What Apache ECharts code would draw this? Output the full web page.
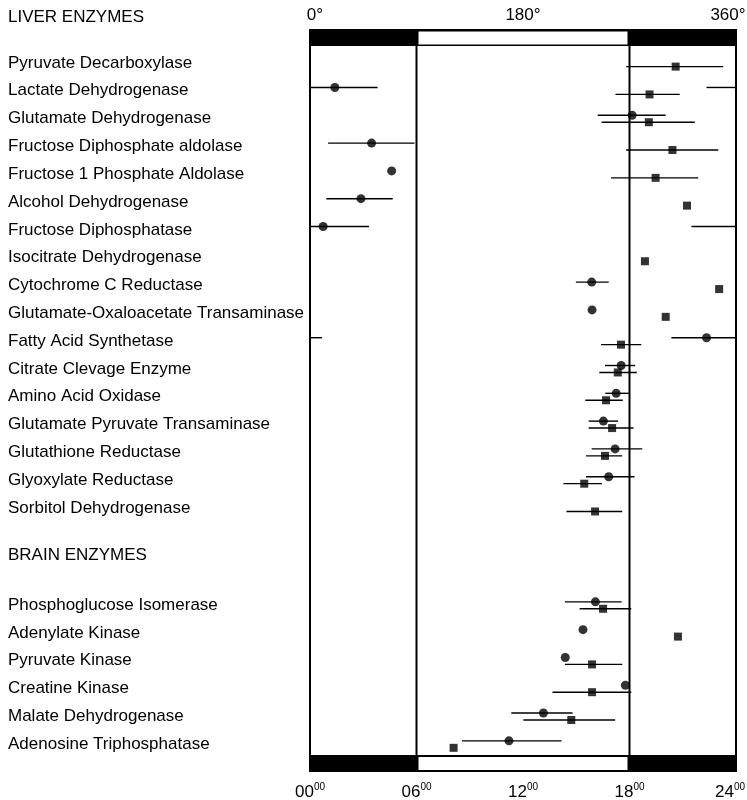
<!DOCTYPE html>
<html><head><meta charset="utf-8">
<script src="https://cdn.jsdelivr.net/npm/echarts@6/dist/echarts.min.js"></script>
<style>html,body{margin:0;padding:0;background:#fff}#c{width:747px;height:800px}</style>
</head><body><div id="c"></div>
<script>
// ---------------- data ----------------
const liverEnzymes = [
  'Pyruvate Decarboxylase','Lactate Dehydrogenase','Glutamate Dehydrogenase',
  'Fructose Diphosphate aldolase','Fructose 1 Phosphate Aldolase','Alcohol Dehydrogenase',
  'Fructose Diphosphatase','Isocitrate Dehydrogenase','Cytochrome C Reductase',
  'Glutamate-Oxaloacetate Transaminase','Fatty Acid Synthetase','Citrate Clevage Enzyme',
  'Amino Acid Oxidase','Glutamate Pyruvate Transaminase','Glutathione Reductase',
  'Glyoxylate Reductase','Sorbitol Dehydrogenase'
];
const brainEnzymes = [
  'Phosphoglucose Isomerase','Adenylate Kinase','Pyruvate Kinase',
  'Creatine Kinase','Malate Dehydrogenase','Adenosine Triphosphatase'
];
const liverHeader = 'LIVER ENZYMES';
const brainHeader = 'BRAIN ENZYMES';

// acrophase (clock hours) and range, circles
const circleTime = [null,1.40,18.15,3.47,4.60,2.87,0.74,null,15.87,15.89,22.34,17.53,17.25,16.53,17.19,16.83,null,
                    16.08,15.38,14.38,17.77,13.15,11.21];
const circleLo   = [null,-1.66,16.21,1.02,null,0.92,-2.51,null,14.98,null,20.36,16.62,16.64,15.70,15.87,15.55,null,
                    14.36,null,null,null,11.34,8.56];
const circleHi   = [null,3.81,20.04,5.89,null,4.66,3.32,null,16.83,null,24.68,18.32,17.96,17.36,18.72,18.28,null,
                    17.56,null,null,null,14.79,14.17];
// squares
const squareTime = [20.60,19.13,19.09,20.42,19.47,21.24,null,18.87,23.05,20.04,17.52,17.34,16.68,17.02,16.62,15.45,16.06,
                    16.51,20.73,15.89,15.89,14.72,8.09];
const squareLo   = [17.81,17.21,16.43,17.81,16.96,null,null,null,null,null,16.40,16.30,15.51,15.70,15.55,14.28,14.45,
                    15.19,null,14.36,13.66,12.02,null];
const squareHi   = [23.28,20.83,21.68,23.00,21.87,null,null,null,null,null,18.66,18.41,17.62,18.23,17.59,16.45,17.59,
                    18.10,null,17.59,18.10,17.19,null];

const topTicks = ['0°','180°','360°'];
const bottomTicks = ['00','06','12','18','24'];
const lightOn = 6, lightOff = 18;

// ---------------- layout ----------------
const names = liverEnzymes.concat(brainEnzymes);
const brainStart = 19.5, brainHeaderPos = 17.7;
const rowPos = liverEnzymes.map((_, i) => i).concat(brainEnzymes.map((_, j) => brainStart + j));
const labelMap = {};
rowPos.forEach((p, i) => { labelMap[p.toFixed(2)] = names[i]; });
labelMap[brainHeaderPos.toFixed(2)] = brainHeader;

const FONT = 'Liberation Sans';
const circOff = -0.12, sqOff = 0.13;

function points(t, off) {
  const out = [];
  t.forEach((v, i) => { if (v != null) out.push([v, rowPos[i] + off]); });
  return out;
}
function bars(t, lo, hi, off) {
  const out = [];
  t.forEach((v, i) => { if (lo[i] != null) out.push([lo[i], hi[i], rowPos[i] + off]); });
  return out;
}
function errRender(params, api) {
  const lo = api.value(0), hi = api.value(1), p = api.value(2);
  const segs = [[Math.max(lo, 0), Math.min(hi, 24)]];
  if (lo < 0) segs.push([lo + 24, 24]);
  if (hi > 24) segs.push([0, hi - 24]);
  return {
    type: 'group',
    children: segs.map(s => {
      const a = api.coord([s[0], p]), b = api.coord([s[1], p]);
      return { type: 'line', shape: { x1: a[0], y1: a[1], x2: b[0], y2: b[1] },
               style: { stroke: '#000', lineWidth: 1.4 } };
    })
  };
}
function frameRender(params, api) {
  const cs = params.coordSys;
  const x0 = cs.x, x1 = cs.x + cs.width, y0 = cs.y, y1 = cs.y + cs.height;
  const xa = api.coord([api.value(0), 0])[0], xb = api.coord([api.value(1), 0])[0];
  const bh = 17;
  const blk = { fill: '#000' }, wht = { fill: '#fff' };
  const ln = (x, ya, yb, w) => ({ type: 'line', shape: { x1: x, y1: ya, x2: x, y2: yb }, style: { stroke: '#000', lineWidth: w } });
  return {
    type: 'group',
    children: [
      { type: 'rect', shape: { x: x0 - 1, y: y0, width: x1 - x0 + 2, height: bh }, style: blk },
      { type: 'rect', shape: { x: xa + 2, y: y0 + 2.5, width: xb - xa - 4, height: bh - 4 }, style: wht },
      { type: 'rect', shape: { x: x0 - 1, y: y1 - bh, width: x1 - x0 + 2, height: bh }, style: blk },
      { type: 'rect', shape: { x: xa + 2, y: y1 - bh + 2, width: xb - xa - 4, height: bh - 4 }, style: wht },
      ln(x0, y0, y1, 2), ln(x1, y0, y1, 2),
      ln(xa, y0 + bh, y1 - bh, 2), ln(xb, y0 + bh, y1 - bh, 2)
    ]
  };
}

const chart = echarts.init(document.getElementById('c'), null, { renderer: 'canvas' });
chart.setOption({
  animation: false,
  backgroundColor: '#fff',
  title: { text: liverHeader, left: 8, top: 9, padding: 0,
           textStyle: { fontFamily: FONT, fontSize: 17, fontWeight: 'normal', color: '#000' } },
  grid: { left: 310, right: 11, top: 29, bottom: 28, containLabel: false, outerBoundsMode: 'none' },
  xAxis: [
    { type: 'value', position: 'top', min: 0, max: 24, interval: 12,
      axisLine: { show: false }, axisTick: { show: false }, splitLine: { show: false },
      axisLabel: { margin: 5, color: '#000', fontFamily: FONT, fontSize: 17,
        formatter: (v, i) => i === 0 ? '{f|' + topTicks[0] + '}' : (i === 2 ? '{l|' + topTicks[2] + '}' : topTicks[i]),
        rich: { f: { fontFamily: FONT, fontSize: 17, padding: [0, 0, 0, 10] },
                l: { fontFamily: FONT, fontSize: 17, padding: [0, 16, 0, 0] } } } },
    { type: 'value', position: 'bottom', min: 0, max: 24, interval: 6,
      axisLine: { show: false }, axisTick: { show: false }, splitLine: { show: false },
      axisLabel: { margin: 10, color: '#000', fontFamily: FONT,
        formatter: (v, i) => '{m|' + bottomTicks[i] + '}' + (i === 4 ? '{t|00}' : '{s|00}'),
        rich: {
          m: { fontFamily: FONT, fontSize: 17, lineHeight: 20 },
          s: { fontFamily: FONT, fontSize: 10, lineHeight: 10, verticalAlign: 'top' },
          t: { fontFamily: FONT, fontSize: 10, lineHeight: 10, verticalAlign: 'top', padding: [0, 12, 0, 0] }
        } } }
  ],
  yAxis: { type: 'value', inverse: true, min: -1.223, max: 25.5,
    axisLine: { show: false }, axisTick: { show: false }, splitLine: { show: false },
    axisLabel: { customValues: rowPos.concat([brainHeaderPos]), align: 'left', margin: 302,
      color: '#000', fontFamily: FONT, fontSize: 17, showMinLabel: true, showMaxLabel: true,
      formatter: v => labelMap[Number(v).toFixed(2)] || '' } },
  series: [
    { type: 'custom', name: 'frame', xAxisIndex: 1, renderItem: frameRender, clip: false,
      data: [[lightOn, lightOff, 0]], encode: { x: [0, 1], y: 2 }, silent: true, z: 1 },
    { type: 'custom', name: 'circleBars', xAxisIndex: 1, renderItem: errRender,
      data: bars(circleTime, circleLo, circleHi, circOff), encode: { x: [0, 1], y: 2 }, z: 2 },
    { type: 'custom', name: 'squareBars', xAxisIndex: 1, renderItem: errRender,
      data: bars(squareTime, squareLo, squareHi, sqOff), encode: { x: [0, 1], y: 2 }, z: 2 },
    { type: 'scatter', name: 'circles', xAxisIndex: 1, symbol: 'circle', symbolSize: 9,
      itemStyle: { color: '#000' }, data: points(circleTime, circOff), z: 3 },
    { type: 'scatter', name: 'squares', xAxisIndex: 1, symbol: 'rect', symbolSize: 8,
      itemStyle: { color: '#000' }, data: points(squareTime, sqOff), z: 3 }
  ]
});
</script></body></html>
